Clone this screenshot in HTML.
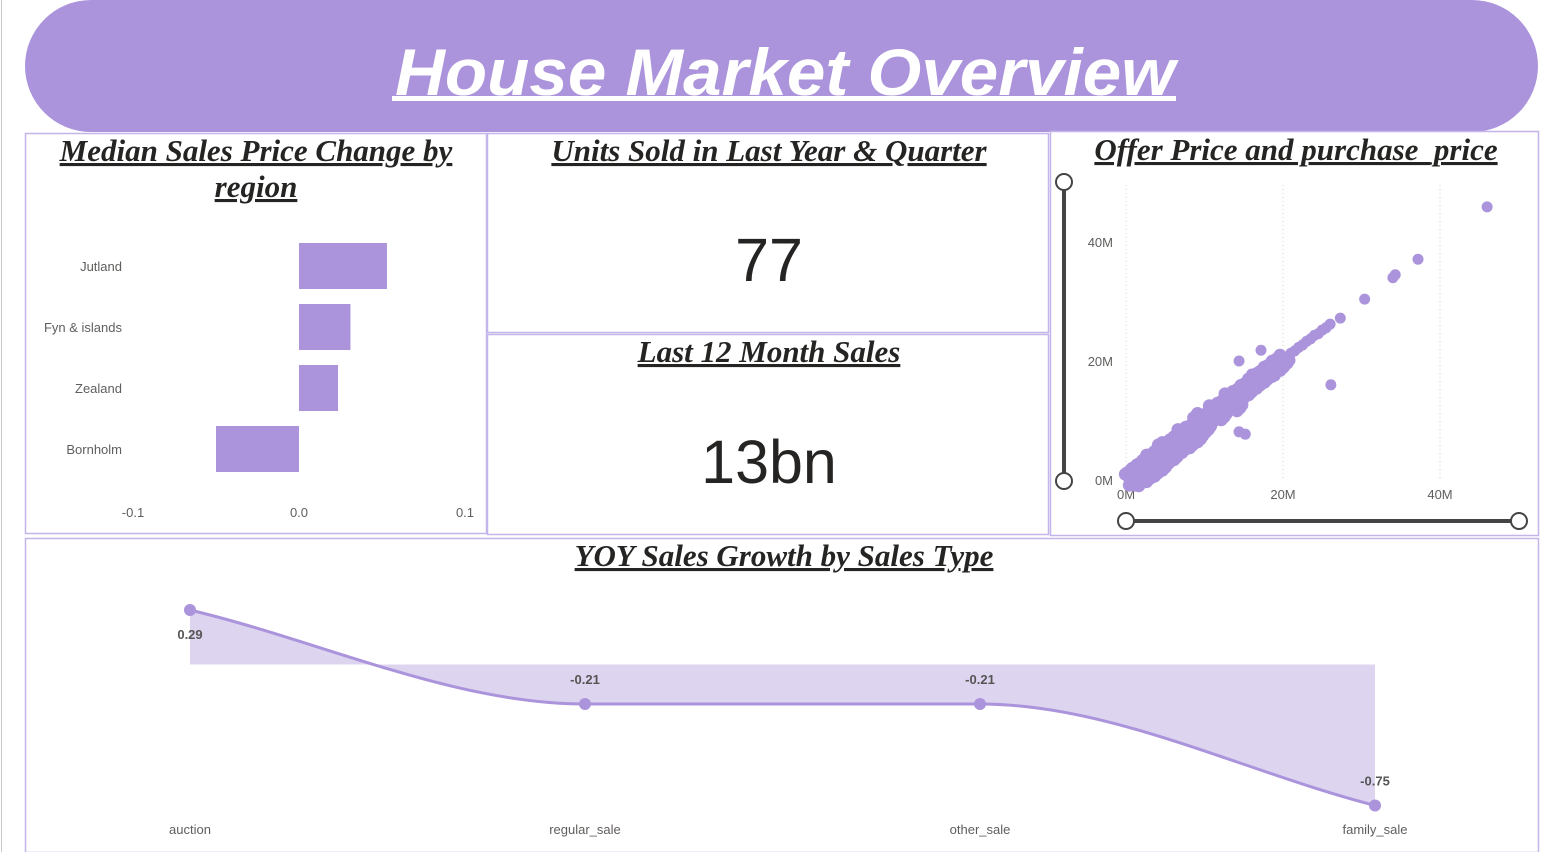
<!DOCTYPE html>
<html><head><meta charset="utf-8"><style>
html,body{margin:0;padding:0;background:#fff;width:1561px;height:852px;overflow:hidden}
svg{display:block}
.pt{font-family:"Liberation Serif",serif;font-weight:bold;font-style:italic;font-size:31px;fill:#252423;text-decoration:underline}
.ax{font-family:"Liberation Sans",sans-serif;font-size:13px;fill:#605e5c}
.kpi{font-family:"Liberation Sans",sans-serif;font-size:61px;fill:#252423}
</style></head><body>
<svg id="s" width="1561" height="852" xmlns="http://www.w3.org/2000/svg">
<line x1="1.5" y1="0" x2="1.5" y2="852" stroke="#c8c8c8" stroke-width="1"/>
<g>
<rect x="25" y="0" width="1513" height="132" rx="66" fill="#ab94dc"/>
<text x="785" y="95" text-anchor="middle" font-family="Liberation Sans,sans-serif" font-weight="bold" font-style="italic" font-size="66" fill="#fff" textLength="780" lengthAdjust="spacingAndGlyphs">House Market Overview</text>
<rect x="392" y="96" width="784" height="5" fill="#fff"/>
</g>
<g fill="none" stroke="#c3b4ea" stroke-width="1.5">
<rect x="25.5" y="133.5" width="461" height="400"/>
<rect x="487.5" y="133.5" width="561" height="199"/>
<rect x="487.5" y="334.5" width="561" height="200"/>
<rect x="1050.5" y="131.5" width="488" height="404"/>
<rect x="25.5" y="538.5" width="1513" height="314"/>
</g>
<text class="pt" x="256" y="161" text-anchor="middle">Median Sales Price Change by</text>
<text class="pt" x="256" y="197" text-anchor="middle">region</text>
<text class="pt" x="769" y="161" text-anchor="middle">Units Sold in Last Year &amp; Quarter</text>
<text class="kpi" x="769" y="281" text-anchor="middle">77</text>
<text class="pt" x="769" y="362" text-anchor="middle">Last 12 Month Sales</text>
<text class="kpi" x="769" y="483" text-anchor="middle">13bn</text>
<text class="pt" x="1296" y="160" text-anchor="middle">Offer Price and purchase_price</text>
<text class="pt" x="784" y="566" text-anchor="middle">YOY Sales Growth by Sales Type</text>
<g id="bars"></g>
<g id="scatter"></g>
<g id="yoy"></g>
</svg>
<script>
const NS="http://www.w3.org/2000/svg";
function mk(p,t,a,txt){const e=document.createElementNS(NS,t);for(const k in a)e.setAttribute(k,a[k]);if(txt!==undefined)e.textContent=txt;p.appendChild(e);return e;}
const C="#ab94dc";

// ---- Region bar chart ----
const regions=["Jutland","Fyn & islands","Zealand","Bornholm"];
const regionValues=[0.053,0.031,0.0235,-0.05];
const regionTicks=[-0.1,0,0.1];
const regionTickLabels=["-0.1","0.0","0.1"];
const bx=v=>299+v*1660, by=i=>266+i*61;
const bg=document.getElementById('bars');
regions.forEach((r,i)=>{
  const x0=Math.min(bx(0),bx(regionValues[i])),w=Math.abs(bx(regionValues[i])-bx(0));
  const b=mk(bg,'rect',{x:x0,y:by(i)-23,width:w,height:46,fill:C});
  
  
  const t=mk(bg,'text',{x:122,y:by(i)+5,'text-anchor':'end',class:'ax'},r);
  
  
});
regionTicks.forEach((v,i)=>{
  const t=mk(bg,'text',{x:bx(v),y:517,'text-anchor':'middle',class:'ax'},regionTickLabels[i]);
  
  
});

// ---- Scatter ----
const offerM=[0.3,0.5,0.8,1,1.2,1.5,1.8,2,2.3,2.5,2.8,3,3.3,3.5,3.8,4,4.3,4.5,4.8,5,5.3,5.5,5.8,6,6.3,6.5,7,7.5,8,8.5,9,9.5,10,10.5,11,11.5,12,12.5,13,13.5,14,14.5,15,15.5,16,16.5,17,17.5,18,18.5,19,19.5,20,20.5,21,21.5,22,22.5,23,23.5,24,24.5,25,25.5,26,4,6,8,10,12,3,5,7,9,11,13,14,2,4.5,9.5,1,2,3,5,6,7,8,9,1.5,2.5,3.5,4.5,46,37.2,34.3,34,30.4,27.3,26.1,14.4,17.2,14.4,15.2,16,12.8,11,19,18.5];
const purchaseM=[0.3,0.5,0.7,1,1.3,1.4,1.9,2,2.2,2.6,2.7,3.1,3.2,3.6,3.7,4.1,4.2,4.6,4.7,5.1,5.2,5.6,5.7,6.1,6.2,6.6,7.1,7.4,8.2,8.4,9.2,9.4,10.2,10.4,11.2,11.4,12.2,12.5,13.2,13.5,14.2,14.5,15.2,15.5,16.3,16.6,17.2,17.6,18.3,18.6,19.3,19.6,20.3,20.6,21.3,21.7,22.3,22.7,23.3,23.7,24.3,24.6,25.2,25.6,26.2,3.3,5.2,7.3,9.2,11.3,3.5,5.6,7.8,9.8,11.8,13.8,12.8,1.6,5.2,10.5,0.3,1,2,3.6,4.6,5.8,6.6,7.6,0.2,0.9,1.8,2.8,45.9,37.1,34.5,34,30.4,27.2,16,20,21.8,8.1,7.7,17.8,13.8,11.8,17.5,20];
const xTicks=[0,20,40],yTicks=[0,20,40];
const sx=v=>1126+v*7.85, sy=v=>480-v*5.95;
const sg=document.getElementById('scatter');
xTicks.forEach(v=>{const l=mk(sg,'line',{x1:sx(v),x2:sx(v),y1:185,y2:480,stroke:'#d0d0d0','stroke-dasharray':'1 3'});

});
xTicks.forEach(v=>{const t=mk(sg,'text',{x:sx(v),y:499,'text-anchor':'middle',class:'ax'},v+'M');

});
yTicks.forEach(v=>{const t=mk(sg,'text',{x:1113,y:sy(v)+5,'text-anchor':'end',class:'ax'},v+'M');

});
offerM.forEach((v,i)=>{const c=mk(sg,'circle',{cx:sx(v),cy:sy(purchaseM[i]),r:5.5,fill:C});

});
// dense cloud thickness: overlapping markers around bulk points
const bulk=offerM.length-16;
for(let i=0;i<bulk;i++){
  if(offerM[i]>20)continue;
  [[4,4],[-3,-4],[6,1],[1,7]].forEach(o=>{
    const c=mk(sg,'circle',{cx:sx(offerM[i])+o[0],cy:sy(purchaseM[i])+o[1],r:6.5,fill:C});
    
    
  });
}
const ysl=mk(sg,'g',{});


mk(ysl,'line',{x1:1064,x2:1064,y1:182,y2:481,stroke:'#444',"stroke-width":4});
mk(ysl,'circle',{cx:1064,cy:182,r:8,fill:'#fff',stroke:'#444','stroke-width':2});
mk(ysl,'circle',{cx:1064,cy:481,r:8,fill:'#fff',stroke:'#444','stroke-width':2});
const xsl=mk(sg,'g',{});


mk(xsl,'line',{x1:1126,x2:1519,y1:521,y2:521,stroke:'#444',"stroke-width":4});
mk(xsl,'circle',{cx:1126,cy:521,r:8,fill:'#fff',stroke:'#444','stroke-width':2});
mk(xsl,'circle',{cx:1519,cy:521,r:8,fill:'#fff',stroke:'#444','stroke-width':2});

// ---- YOY line ----
const saleTypes=["auction","regular_sale","other_sale","family_sale"];
const yoyValues=[0.29,-0.21,-0.21,-0.75];
const yoyLabels=["0.29","-0.21","-0.21","-0.75"];
const lx=i=>190+i*395, ly=v=>664.5-v*188;
const yg=document.getElementById('yoy');
const P=yoyValues.map((v,i)=>[lx(i),ly(v)]);
const n=P.length,d=[],m=[];
for(let i=0;i<n-1;i++)d.push((P[i+1][1]-P[i][1])/(P[i+1][0]-P[i][0]));
m[0]=d[0];m[n-1]=d[n-2];
for(let i=1;i<n-1;i++)m[i]=(d[i-1]*d[i]<=0)?0:(d[i-1]+d[i])/2;
let path='M'+P[0][0]+','+P[0][1];
for(let i=0;i<n-1;i++){const h=(P[i+1][0]-P[i][0])/3;
path+=` C${P[i][0]+h},${P[i][1]+m[i]*h} ${P[i+1][0]-h},${P[i+1][1]-m[i+1]*h} ${P[i+1][0]},${P[i+1][1]}`;}
const area=mk(yg,'path',{d:path+` L${P[n-1][0]},${ly(0)} L${P[0][0]},${ly(0)} Z`,fill:'#ddd4ef'});


const ln=mk(yg,'path',{d:path,fill:'none',stroke:C,'stroke-width':3});


P.forEach((p,i)=>{
  const c=mk(yg,'circle',{cx:p[0],cy:p[1],r:6,fill:C});
  
  
  const above=yoyValues[i]<0;
  const t=mk(yg,'text',{x:p[0],y:above?p[1]-20:p[1]+29,'text-anchor':'middle','font-family':'Liberation Sans,sans-serif','font-weight':'bold','font-size':'13',fill:'#555'},yoyLabels[i]);
  
  
  const c2=mk(yg,'text',{x:p[0],y:834,'text-anchor':'middle',class:'ax'},saleTypes[i]);
  
  
});
</script>
</body></html>
